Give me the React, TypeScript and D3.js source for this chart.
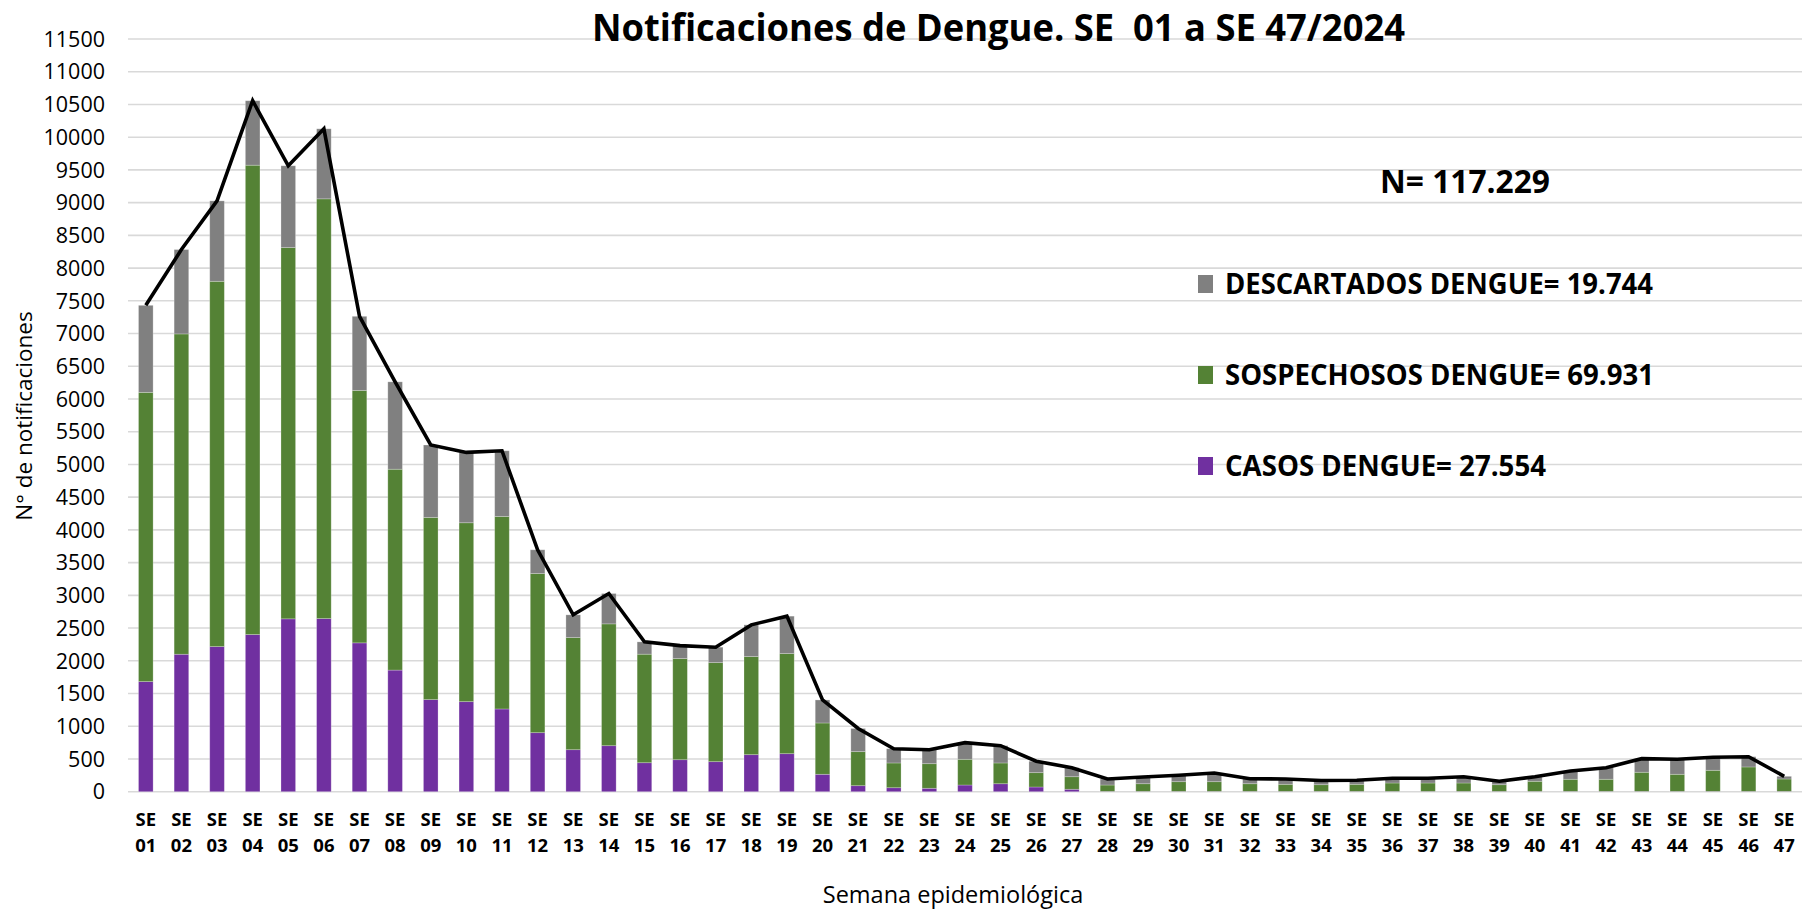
import React from 'react';
import * as d3 from 'd3';

// semanas epidemiológicas
const weeks = d3.range(1, 48).map(w => String(w).padStart(2, '0'));

const casos = [
  1682, 2100, 2217, 2401, 2641, 2645, 2274, 1858, 1407, 1376, 1264, 902, 642, 703, 443, 489,
  459, 566, 581, 266, 92, 61, 52, 102, 122, 72, 37, 5, 5, 5, 5, 5, 5, 5, 5, 5, 5, 5, 5, 5, 5,
  5, 5, 5, 5, 5, 5,
];

const sospechosos = [
  4419, 4894, 5581, 7171, 5672, 6413, 3857, 3069, 2783, 2733, 2941, 2431, 1713, 1861, 1658,
  1545, 1513, 1498, 1529, 784, 520, 378, 376, 393, 317, 219, 192, 97, 117, 148, 148, 117, 108,
  102, 108, 128, 128, 128, 102, 154, 185, 185, 292, 261, 322, 373, 189,
];

const descartados = [
  1330, 1289, 1229, 985, 1250, 1070, 1132, 1335, 1107, 1075, 1004, 363, 347, 464, 188, 198,
  236, 485, 572, 352, 354, 218, 214, 254, 264, 174, 138, 92, 103, 98, 133, 77, 81, 65, 61, 72,
  72, 96, 52, 70, 127, 177, 208, 229, 199, 157, 41,
];

const yTicks = d3.range(0, 11501, 500);

const seriesKeys = ['casos', 'sospechosos', 'descartados'];
const colors = { casos: '#7030A0', sospechosos: '#548235', descartados: '#808080' };

const legend = [
  { key: 'descartados', label: 'DESCARTADOS DENGUE= 19.744', width: 428 },
  { key: 'sospechosos', label: 'SOSPECHOSOS DENGUE= 69.931', width: 429 },
  { key: 'casos', label: 'CASOS DENGUE= 27.554', width: 321 },
];

const W = 1809;
const H = 909;
const plot = { left: 128, right: 1802, top: 39, bottom: 791.7 };

export default function App() {
  const rows = weeks.map((w, i) => ({
    week: w,
    casos: casos[i],
    sospechosos: sospechosos[i],
    descartados: descartados[i],
  }));

  const x = d3.scaleBand()
    .domain(weeks)
    .range([plot.left, plot.right])
    .paddingInner(0.59)
    .paddingOuter(0.295);

  const y = d3.scaleLinear()
    .domain([0, 11500])
    .range([plot.bottom, plot.top]);

  const stacked = d3.stack().keys(seriesKeys)(rows);

  const line = d3.line()
    .x(d => x(d.week) + x.bandwidth() / 2)
    .y(d => y(d.casos + d.sospechosos + d.descartados));

  const font = "'Open Sans', sans-serif";

  return (
    <svg width={W} height={H} style={{ position: 'absolute', left: 0, top: 0, background: '#fff' }}>
      {/* grid */}
      {yTicks.map(t => (
        <line key={t} x1={plot.left} x2={plot.right} y1={y(t)} y2={y(t)} stroke="#d9d9d9" strokeWidth={1.6} />
      ))}
      {yTicks.map(t => (
        <text key={'l' + t} x={105} y={y(t)} dy="0.36em" textAnchor="end" fontFamily={font} fontSize={21.5} fill="#000">
          {t}
        </text>
      ))}

      {/* bars */}
      {stacked.map(s => (
        <g key={s.key} fill={colors[s.key]}>
          {s.map(d => (
            <rect
              key={d.data.week}
              x={x(d.data.week)}
              width={x.bandwidth()}
              y={y(d[1])}
              height={Math.max(0, y(d[0]) - y(d[1]))}
              stroke="rgba(255,255,255,0.3)"
              strokeWidth={0.8}
            />
          ))}
        </g>
      ))}

      <path d={line(rows)} fill="none" stroke="#000" strokeWidth={3.6} />

      {/* x labels */}
      {weeks.map(w => (
        <text key={w} x={x(w) + x.bandwidth() / 2} textAnchor="middle" fontFamily={font} fontWeight="bold" fontSize={18.5} fill="#000">
          <tspan x={x(w) + x.bandwidth() / 2} y={826}>SE</tspan>
          <tspan x={x(w) + x.bandwidth() / 2} y={852}>{w}</tspan>
        </text>
      ))}

      <text x={953} y={903} textAnchor="middle" fontFamily={font} fontSize={23.5} fill="#000">
        Semana epidemiológica
      </text>
      <text transform="translate(32,416) rotate(-90)" textAnchor="middle" fontFamily={font} fontSize={22.5} fill="#000">
        N° de notificaciones
      </text>

      {/* title */}
      <text x={592} y={41} fontFamily={font} fontWeight="bold" fontSize={38} textLength={813} lengthAdjust="spacingAndGlyphs" fill="#000" style={{ whiteSpace: 'pre' }}>
        {'Notificaciones de Dengue. SE  01 a SE 47/2024'}
      </text>

      <text x={1380} y={193} fontFamily={font} fontWeight="bold" fontSize={32} textLength={170} lengthAdjust="spacingAndGlyphs" fill="#000">
        N= 117.229
      </text>

      {legend.map((l, i) => {
        const base = 294 + i * 91;
        return (
          <g key={l.key}>
            <rect x={1198} y={base - 19} width={15} height={18} fill={colors[l.key]} />
            <text x={1225} y={base} fontFamily={font} fontWeight="bold" fontSize={28} textLength={l.width} lengthAdjust="spacingAndGlyphs" fill="#000">
              {l.label}
            </text>
          </g>
        );
      })}
    </svg>
  );
}
